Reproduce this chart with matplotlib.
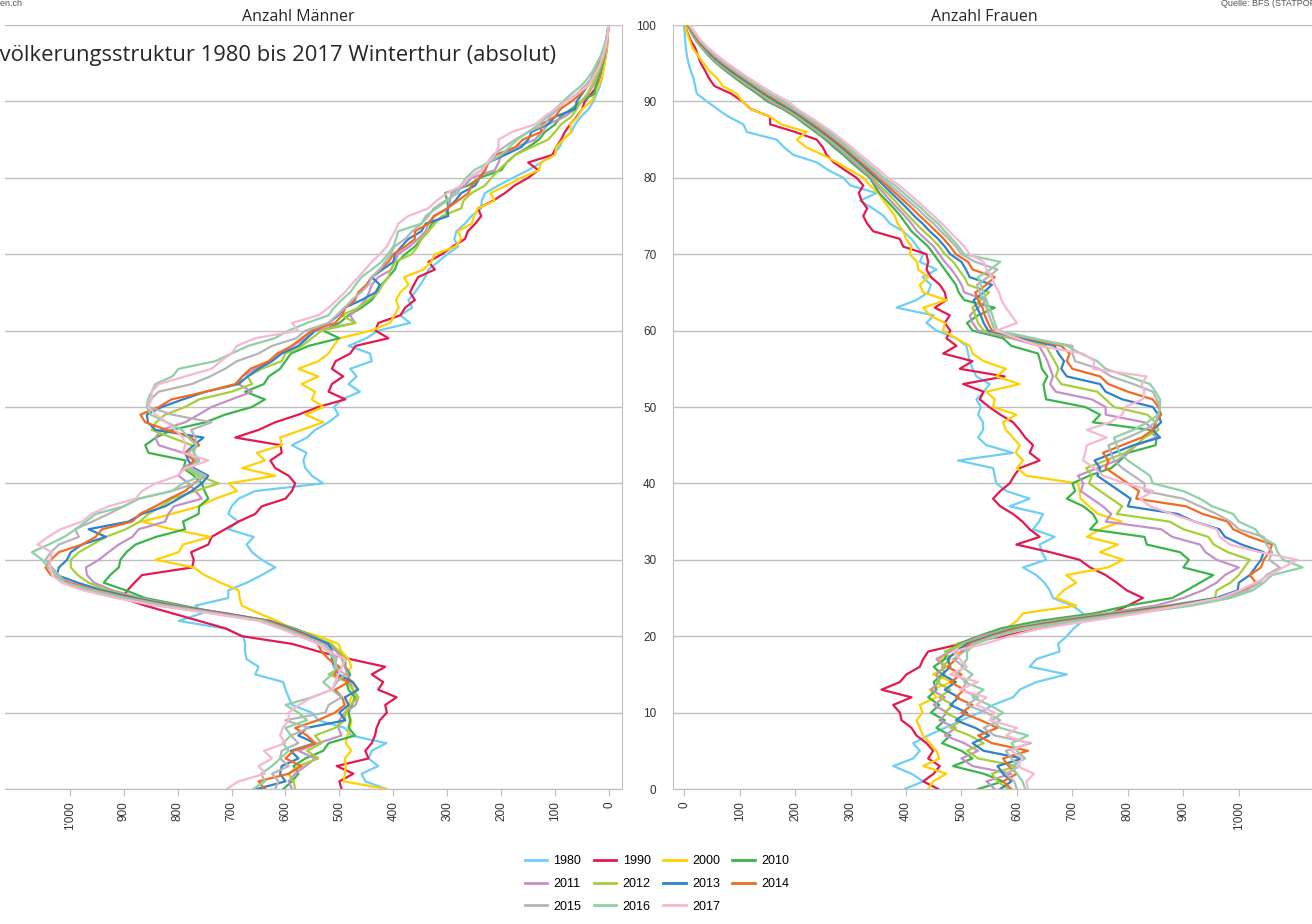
import matplotlib.pyplot as plt
from matplotlib.lines import Line2D

# Bevölkerungsstruktur Winterthur, Anzahl Personen je Altersjahr (0..100)
ages = list(range(101))
years = ['1980', '1990', '2000', '2010', '2011', '2012', '2013', '2014', '2015', '2016', '2017']
colors = ['#6DCFF6', '#E5194E', '#FFD100', '#3AB54A', '#C590C8', '#A6CE39',
          '#2E82C9', '#F26B21', '#B5B5B8', '#8ED1A5', '#F7B7D3']

# Männer
men_1980 = [413, 452, 459, 428, 446, 440, 413, 478, 490, 539,
            551, 588, 594, 600, 604, 656, 650, 672, 675, 675,
            678, 712, 798, 755, 767, 706, 706, 672, 644, 619,
            644, 662, 672, 659, 706, 687, 706, 700, 687, 656,
            530, 551, 563, 567, 561, 588, 560, 545, 520, 502,
            510, 495, 462, 483, 468, 480, 440, 443, 483, 450,
            428, 369, 387, 365, 372, 360, 350, 341, 335, 317,
            300, 280, 287, 283, 267, 255, 237, 236, 230, 205,
            178, 150, 126, 105, 92, 85, 70, 63, 52, 38,
            29, 23, 17, 13, 11, 9, 7, 5, 3, 2,
            1]
men_1990 = [496, 500, 474, 505, 446, 452, 440, 434, 431, 425,
            412, 415, 394, 428, 419, 440, 415, 480, 539, 588,
            681, 710, 760, 810, 860, 903, 893, 880, 866, 773,
            770, 775, 743, 737, 712, 687, 656, 644, 600, 588,
            582, 594, 619, 628, 607, 609, 693, 650, 619, 576,
            539, 489, 520, 514, 493, 514, 507, 480, 470, 409,
            433, 428, 387, 378, 360, 369, 362, 354, 323, 335,
            310, 290, 267, 262, 248, 237, 243, 215, 193, 175,
            150, 131, 150, 105, 98, 89, 82, 72, 60, 50,
            45, 33, 22, 15, 12, 9, 6, 4, 3, 2,
            1]
men_2000 = [413, 492, 490, 488, 490, 478, 488, 485, 480, 478,
            487, 483, 478, 468, 476, 488, 478, 483, 496, 502,
            539, 588, 615, 650, 681, 685, 687, 720, 750, 770,
            841, 798, 790, 739, 811, 866, 811, 760, 730, 690,
            705, 619, 680, 638, 653, 607, 610, 570, 530, 563,
            530, 551, 545, 570, 539, 576, 539, 520, 511, 500,
            441, 406, 398, 390, 395, 387, 372, 380, 344, 330,
            323, 285, 274, 280, 255, 250, 243, 212, 220, 190,
            163, 130, 126, 100, 98, 85, 70, 72, 58, 50,
            33, 26, 20, 14, 11, 8, 6, 4, 3, 2,
            1]
men_2010 = [604, 588, 576, 585, 563, 530, 520, 471, 483, 480,
            483, 477, 471, 483, 487, 480, 489, 489, 502, 520,
            548, 582, 630, 720, 790, 860, 896, 937, 925, 909,
            906, 895, 878, 840, 786, 790, 761, 760, 743, 750,
            755, 770, 789, 785, 854, 860, 840, 811, 748, 712,
            662, 638, 675, 640, 631, 610, 600, 590, 557, 500,
            530, 500, 483, 459, 440, 430, 422, 409, 397, 392,
            378, 360, 348, 335, 329, 304, 298, 300, 304, 261,
            240, 200, 190, 174, 150, 130, 119, 100, 90, 70,
            52, 27, 25, 20, 15, 11, 8, 6, 4, 2,
            1]
men_2011 = [588, 594, 582, 563, 545, 576, 539, 496, 502, 500,
            490, 470, 465, 475, 480, 485, 490, 495, 505, 525,
            550, 585, 628, 712, 800, 870, 920, 955, 968, 970,
            946, 928, 909, 884, 872, 823, 817, 807, 755, 767,
            780, 798, 790, 767, 790, 835, 841, 830, 786, 761,
            737, 700, 662, 687, 680, 656, 625, 610, 588, 563,
            545, 471, 480, 465, 452, 445, 440, 428, 403, 398,
            391, 370, 354, 340, 335, 323, 298, 295, 292, 267,
            255, 212, 205, 200, 174, 137, 125, 113, 82, 63,
            50, 39, 30, 24, 18, 13, 9, 6, 4, 2,
            1]
men_2012 = [582, 585, 594, 576, 539, 560, 533, 545, 508, 490,
            489, 480, 465, 475, 485, 520, 495, 489, 500, 515,
            552, 588, 628, 715, 805, 875, 930, 965, 985, 998,
            998, 983, 958, 933, 896, 870, 854, 830, 810, 767,
            724, 761, 786, 760, 770, 774, 811, 848, 840, 823,
            786, 760, 700, 662, 670, 644, 607, 600, 570, 551,
            533, 470, 496, 465, 446, 428, 420, 409, 405, 397,
            366, 355, 348, 335, 323, 310, 274, 270, 255, 230,
            218, 205, 190, 174, 144, 113, 100, 89, 70, 60,
            52, 40, 33, 25, 20, 14, 11, 8, 5, 3,
            1]
men_2013 = [653, 600, 610, 607, 576, 590, 545, 576, 560, 489,
            500, 483, 490, 465, 475, 502, 510, 514, 514, 520,
            555, 590, 630, 712, 808, 880, 940, 985, 1024, 1020,
            1005, 998, 977, 933, 965, 891, 866, 823, 798, 774,
            755, 743, 770, 780, 786, 770, 752, 841, 855, 857,
            829, 790, 748, 687, 670, 650, 625, 607, 576, 560,
            545, 520, 502, 490, 459, 433, 425, 440, 420, 400,
            397, 385, 372, 348, 340, 298, 300, 285, 274, 248,
            240, 230, 224, 193, 163, 150, 144, 113, 100, 63,
            60, 50, 40, 33, 27, 20, 12, 8, 5, 3,
            1]
men_2014 = [638, 650, 594, 570, 600, 585, 545, 560, 582, 540,
            508, 490, 495, 508, 483, 510, 500, 520, 533, 540,
            560, 595, 635, 720, 815, 890, 950, 1000, 1035, 1045,
            1035, 1020, 977, 952, 940, 884, 870, 841, 815, 786,
            770, 748, 780, 770, 786, 760, 775, 820, 860, 869,
            835, 811, 748, 693, 680, 665, 631, 615, 588, 570,
            551, 508, 495, 489, 471, 465, 450, 440, 425, 409,
            400, 378, 360, 360, 335, 325, 300, 280, 261, 255,
            240, 230, 224, 210, 174, 160, 126, 126, 100, 90,
            70, 52, 40, 30, 27, 20, 14, 9, 5, 3,
            1]
men_2015 = [619, 613, 625, 594, 610, 607, 576, 590, 557, 600,
            526, 520, 496, 514, 505, 489, 510, 505, 515, 530,
            565, 600, 640, 728, 820, 895, 955, 1008, 1020, 1033,
            1045, 1035, 1020, 983, 990, 958, 928, 900, 872, 811,
            767, 748, 775, 760, 780, 765, 767, 775, 737, 810,
            854, 850, 835, 774, 740, 712, 690, 650, 625, 580,
            563, 520, 505, 490, 477, 460, 446, 440, 425, 415,
            405, 398, 378, 365, 348, 335, 325, 304, 280, 275,
            260, 237, 225, 215, 195, 174, 150, 119, 110, 95,
            80, 60, 45, 33, 27, 22, 15, 10, 6, 3,
            1]
men_2016 = [660, 638, 645, 625, 610, 594, 605, 590, 600, 560,
            576, 600, 551, 514, 530, 514, 505, 510, 520, 539,
            570, 605, 645, 735, 830, 905, 965, 1010, 1025, 1040,
            1051, 1070, 1039, 1010, 989, 970, 952, 900, 872, 811,
            790, 755, 780, 760, 770, 765, 780, 792, 820, 850,
            857, 855, 848, 841, 810, 798, 730, 700, 669, 620,
            594, 560, 520, 510, 496, 480, 470, 459, 440, 422,
            410, 400, 395, 391, 348, 340, 320, 300, 285, 275,
            265, 250, 224, 200, 185, 170, 150, 130, 115, 100,
            85, 70, 52, 40, 30, 23, 15, 10, 6, 3,
            1]
men_2017 = [709, 687, 638, 650, 625, 640, 600, 610, 605, 594,
            594, 575, 551, 514, 508, 502, 495, 489, 520, 539,
            575, 610, 650, 740, 840, 915, 975, 1015, 1033, 1036,
            1036, 1033, 1060, 1040, 1017, 977, 960, 928, 878, 866,
            841, 800, 786, 743, 790, 786, 790, 804, 820, 840,
            855, 848, 848, 835, 786, 737, 720, 700, 690, 656,
            576, 588, 539, 520, 505, 490, 478, 465, 452, 440,
            425, 412, 405, 397, 391, 372, 335, 320, 300, 274,
            260, 235, 225, 212, 205, 205, 180, 137, 120, 100,
            80, 60, 39, 30, 22, 16, 11, 7, 4, 2,
            1]

# Frauen
women_1980 = [398, 431, 410, 377, 413, 425, 413, 440, 470, 500,
              533, 557, 593, 605, 635, 690, 623, 635, 677, 674,
              690, 702, 719, 719, 700, 665, 659, 650, 635, 611,
              653, 645, 641, 668, 629, 640, 647, 587, 623, 581,
              563, 560, 557, 494, 593, 545, 530, 539, 539, 530,
              535, 527, 540, 551, 527, 520, 515, 512, 509, 490,
              455, 437, 450, 383, 419, 440, 445, 430, 455, 425,
              431, 420, 410, 395, 371, 360, 340, 317, 347, 300,
              287, 260, 240, 197, 180, 167, 113, 107, 80, 60,
              41, 23, 20, 17, 12, 8, 5, 3, 2, 1,
              0]
women_1990 = [458, 431, 450, 461, 440, 449, 437, 419, 410, 392,
              389, 377, 410, 356, 389, 401, 425, 431, 440, 500,
              575, 640, 700, 770, 800, 827, 798, 780, 760, 732,
              713, 660, 599, 641, 623, 610, 593, 570, 557, 570,
              587, 595, 605, 641, 623, 629, 615, 605, 593, 570,
              550, 533, 540, 503, 578, 497, 520, 467, 491, 473,
              480, 470, 479, 452, 473, 470, 461, 445, 437, 440,
              437, 395, 389, 341, 330, 323, 330, 320, 315, 323,
              311, 290, 270, 257, 250, 239, 200, 155, 155, 120,
              105, 85, 55, 45, 38, 30, 25, 20, 12, 6,
              2]
women_2000 = [440, 449, 473, 431, 460, 455, 443, 431, 425, 419,
              430, 425, 455, 443, 485, 449, 473, 461, 503, 490,
              551, 580, 600, 611, 707, 671, 684, 707, 689, 764,
              792, 750, 782, 726, 750, 789, 746, 730, 715, 713,
              710, 617, 600, 611, 598, 605, 593, 580, 575, 599,
              557, 560, 545, 605, 563, 580, 540, 520, 515, 490,
              467, 470, 443, 431, 473, 431, 425, 440, 422, 420,
              407, 410, 400, 395, 385, 380, 370, 360, 350, 335,
              323, 300, 276, 250, 220, 203, 221, 175, 155, 119,
              105, 95, 70, 60, 45, 35, 25, 15, 10, 5,
              2]
women_2010 = [530, 575, 540, 485, 520, 500, 465, 480, 455, 470,
              445, 460, 440, 455, 450, 465, 450, 470, 475, 495,
              530, 570, 640, 740, 800, 880, 906, 930, 954, 900,
              910, 894, 834, 830, 732, 745, 737, 720, 690, 705,
              700, 730, 770, 786, 800, 850, 852, 840, 737, 750,
              723, 653, 650, 648, 655, 645, 642, 638, 590, 575,
              520, 510, 530, 560, 505, 495, 490, 480, 470, 460,
              450, 440, 425, 410, 400, 390, 378, 365, 352, 343,
              335, 318, 302, 287, 270, 255, 237, 218, 200, 178,
              150, 132, 112, 93, 75, 58, 44, 32, 21, 13,
              6]
women_2011 = [560, 545, 590, 520, 500, 530, 505, 470, 490, 460,
              475, 450, 470, 445, 460, 455, 470, 455, 480, 500,
              535, 585, 660, 760, 850, 900, 935, 960, 975, 1000,
              960, 940, 930, 880, 860, 760, 770, 755, 735, 715,
              720, 710, 745, 780, 800, 815, 850, 848, 830, 760,
              760, 735, 670, 660, 665, 660, 655, 648, 640, 590,
              530, 520, 515, 530, 545, 505, 500, 492, 482, 470,
              460, 450, 435, 420, 410, 398, 385, 372, 360, 347,
              338, 322, 307, 291, 275, 259, 241, 222, 203, 182,
              155, 136, 116, 97, 78, 60, 46, 33, 22, 14,
              7]
women_2012 = [585, 565, 555, 600, 530, 510, 540, 515, 480, 500,
              470, 485, 460, 480, 455, 470, 465, 480, 470, 505,
              545, 590, 670, 770, 870, 957, 960, 985, 1000, 1010,
              1020, 980, 955, 945, 900, 875, 780, 790, 770, 750,
              730, 735, 725, 760, 795, 815, 830, 855, 850, 835,
              775, 760, 745, 680, 670, 675, 668, 660, 652, 600,
              540, 530, 525, 520, 535, 550, 512, 505, 495, 485,
              470, 460, 447, 432, 418, 405, 392, 380, 367, 352,
              342, 327, 312, 296, 280, 263, 245, 226, 207, 186,
              160, 140, 120, 100, 81, 63, 48, 35, 23, 15,
              7]
women_2013 = [570, 590, 575, 565, 610, 540, 520, 550, 525, 490,
              510, 480, 495, 470, 490, 465, 480, 475, 490, 510,
              550, 595, 680, 780, 880, 960, 998, 1000, 1020, 1030,
              1040, 1045, 1005, 975, 965, 920, 890, 800, 805, 785,
              765, 745, 750, 740, 775, 810, 858, 845, 860, 855,
              845, 790, 760, 750, 690, 680, 685, 675, 668, 610,
              548, 540, 535, 528, 522, 540, 555, 515, 508, 500,
              480, 470, 458, 443, 430, 415, 402, 388, 374, 360,
              346, 331, 316, 300, 284, 267, 249, 230, 211, 190,
              165, 144, 124, 104, 84, 66, 50, 37, 25, 16,
              8]
women_2014 = [590, 575, 600, 585, 575, 620, 555, 530, 565, 535,
              500, 520, 490, 505, 480, 500, 475, 490, 500, 515,
              555, 600, 690, 790, 890, 970, 1010, 1031, 1020, 1040,
              1045, 1055, 1060, 1020, 990, 980, 935, 905, 815, 820,
              800, 780, 760, 765, 755, 790, 825, 845, 850, 860,
              855, 845, 800, 765, 750, 700, 690, 695, 680, 620,
              555, 548, 542, 538, 530, 525, 545, 560, 520, 512,
              490, 480, 468, 454, 440, 425, 411, 396, 381, 366,
              350, 335, 320, 304, 288, 271, 253, 234, 215, 194,
              170, 148, 128, 108, 88, 69, 53, 39, 26, 17,
              8]
women_2015 = [600, 595, 580, 605, 590, 580, 625, 560, 540, 570,
              545, 510, 530, 500, 510, 490, 505, 485, 505, 520,
              560, 610, 700, 800, 900, 975, 1015, 1038, 1050, 1074,
              1055, 1060, 1050, 1045, 1000, 985, 960, 930, 900, 830,
              830, 810, 790, 775, 770, 765, 800, 830, 850, 855,
              858, 852, 845, 810, 770, 748, 705, 700, 700, 625,
              560, 555, 550, 545, 540, 533, 528, 548, 565, 525,
              500, 490, 477, 463, 450, 434, 420, 404, 388, 372,
              355, 340, 324, 308, 292, 275, 257, 238, 218, 197,
              175, 152, 131, 111, 91, 72, 55, 41, 28, 18,
              9]
women_2016 = [615, 610, 600, 590, 615, 600, 590, 620, 570, 555,
              575, 550, 520, 540, 505, 520, 500, 510, 510, 525,
              565, 615, 710, 815, 915, 985, 1025, 1045, 1060, 1115,
              1080, 1070, 1065, 1040, 1030, 1000, 990, 952, 930, 900,
              845, 840, 820, 800, 785, 780, 775, 810, 835, 855,
              858, 858, 850, 840, 800, 760, 745, 715, 690, 630,
              565, 560, 556, 550, 545, 540, 535, 530, 552, 570,
              505, 495, 483, 470, 458, 442, 428, 412, 396, 380,
              360, 345, 328, 312, 296, 280, 262, 242, 222, 200,
              180, 156, 134, 114, 94, 75, 57, 42, 29, 19,
              10]
women_2017 = [620, 617, 631, 600, 610, 590, 620, 581, 600, 551,
              560, 527, 545, 497, 530, 479, 510, 497, 485, 542,
              587, 641, 732, 822, 894, 966, 1002, 1030, 1056, 1080,
              1106, 1038, 984, 966, 960, 920, 880, 840, 822, 846,
              795, 755, 740, 719, 723, 726, 762, 726, 768, 790,
              795, 827, 830, 825, 834, 737, 740, 719, 638, 600,
              563, 600, 590, 580, 572, 568, 560, 555, 545, 540,
              515, 505, 492, 478, 465, 450, 435, 420, 404, 388,
              368, 352, 335, 318, 302, 285, 267, 247, 226, 204,
              188, 162, 140, 118, 98, 78, 60, 44, 30, 20,
              10]

men = [men_1980, men_1990, men_2000, men_2010, men_2011, men_2012,
       men_2013, men_2014, men_2015, men_2016, men_2017]
women = [women_1980, women_1990, women_2000, women_2010, women_2011, women_2012,
         women_2013, women_2014, women_2015, women_2016, women_2017]

x_ticks = list(range(0, 1001, 100))
x_labels = ["1'000" if t == 1000 else str(t) for t in x_ticks]

W, H = 1312, 924
fig = plt.figure(figsize=(W / 100, H / 100), dpi=100)


def px_axes(x0, x1, y0, y1):
    return fig.add_axes([x0 / W, 1 - y1 / H, (x1 - x0) / W, (y1 - y0) / H])


ax_m = px_axes(5, 622, 25, 789)
ax_f = px_axes(673, 1312, 25, 789)

grid_col = '#BFBFBF'
tick_font = {'family': 'Liberation Sans', 'size': 8.5}

for ax, data in ((ax_m, men), (ax_f, women)):
    for vals, col in zip(data, colors):
        ax.plot(vals, ages, color=col, lw=1.6)
    ax.set_ylim(0, 100)
    ax.set_yticks(range(0, 101, 10))
    ax.grid(axis='y', color=grid_col, lw=1)
    ax.set_axisbelow(True)
    for s in ax.spines.values():
        s.set_visible(False)
    ax.spines['bottom'].set_visible(True)
    ax.spines['bottom'].set_color(grid_col)
    ax.set_xticks(x_ticks)
    ax.set_xticklabels(x_labels, rotation=90, fontdict=tick_font, color='#333333')
    ax.tick_params(axis='x', direction='out', length=5, color=grid_col, pad=4)
    ax.tick_params(axis='y', length=0)

ax_m.set_xlim(1120, -24)
ax_m.spines['right'].set_visible(True)
ax_m.spines['right'].set_color(grid_col)
ax_m.set_yticklabels([])

ax_f.set_xlim(-20, 1132)
ax_f.spines['left'].set_visible(True)
ax_f.spines['left'].set_color(grid_col)
ax_f.set_yticklabels([str(t) for t in range(0, 101, 10)], fontdict=tick_font, color='#333333')
ax_f.tick_params(axis='y', pad=12)

title_font = 'Open Sans'
fig.text(298 / W, 1 - 17 / H, 'Anzahl Männer', ha='center', va='center',
         fontsize=11.5, family=title_font, color='#262626')
fig.text(984 / W, 1 - 17 / H, 'Anzahl Frauen', ha='center', va='center',
         fontsize=11.5, family=title_font, color='#262626')
# main title runs off the left edge, as in the source chart
fig.text(556 / W, 1 - 56 / H, 'Bevölkerungsstruktur 1980 bis 2017 Winterthur (absolut)',
         ha='right', va='center', fontsize=15.8, family=title_font, color='#262626')
fig.text(23 / W, 1 - 4 / H, 'stadt-winterthur-daten.ch', ha='right', va='center',
         fontsize=6.5, family='Liberation Sans', color='#555555')
fig.text(1221 / W, 1 - 4 / H, 'Quelle: BFS (STATPOP)', ha='left', va='center',
         fontsize=6.5, family='Liberation Sans', color='#555555')

handles = [Line2D([], [], color=c, lw=2) for c in colors]
order = [0, 4, 8, 1, 5, 9, 2, 6, 10, 3, 7]
fig.legend([handles[i] for i in order], [years[i] for i in order], ncol=4,
           loc='center', bbox_to_anchor=(657 / W, 1 - 884 / H), frameon=False,
           prop={'family': 'Liberation Sans', 'size': 9}, handlelength=1.8,
           handletextpad=0.5, columnspacing=1.0, labelspacing=0.85)

fig.savefig('out.png', dpi=100)
